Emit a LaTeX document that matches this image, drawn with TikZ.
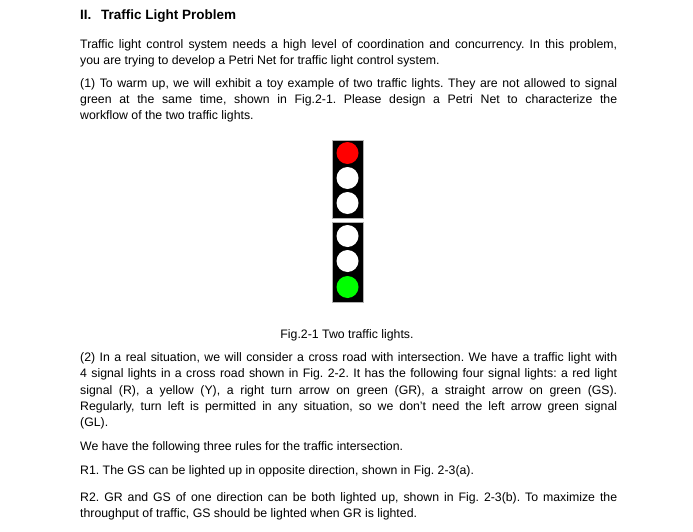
\documentclass[tikz,border=0pt]{standalone}
\usepackage{fontspec}
\setmainfont{Liberation Sans}
\begin{document}
\frenchspacing
\begin{tikzpicture}[x=1pt,y=-1pt,
  txt/.style={anchor=base west,inner sep=0pt,font=\fontsize{12.3}{15}\selectfont},
  head/.style={anchor=base west,inner sep=0pt,font=\fontsize{13.5}{16}\selectfont\bfseries},
  lamp/.style={circle,minimum size=22pt,inner sep=0pt},
  housing/.style={fill=black,draw=gray!60,line width=0.5pt}]
\useasboundingbox (0,0) rectangle (693,532);
\newcommand{\J}[1]{\makebox[537pt][s]{#1}}
\node[head] (h1) at (80,20) {II.};
\node[head] (h2) at (101,20) {Traffic Light Problem};
\node[txt] (l1) at (80,49) {\J{Traffic light control system needs a high level of coordination and concurrency. In this problem,}};
\node[txt] (l2) at (80,65) {you are trying to develop a Petri Net for traffic light control system.};
\node[txt] (l3) at (80,88) {\J{(1) To warm up, we will exhibit a toy example of two traffic lights. They are not allowed to signal}};
\node[txt] (l4) at (80,104) {\J{green at the same time, shown in Fig.2-1. Please design a Petri Net to characterize the}};
\node[txt] (l5) at (80,120) {workflow of the two traffic lights.};
\draw[housing] (332,140) rectangle (363,218);
\draw[housing] (332,222) rectangle (363,302);
\node[lamp,fill=red] (r1) at (347.5,153) {};
\node[lamp,fill=white] (r2) at (347.5,178) {};
\node[lamp,fill=white] (r3) at (347.5,203) {};
\node[lamp,fill=white] (g1) at (347.5,236) {};
\node[lamp,fill=white] (g2) at (347.5,261) {};
\node[lamp,fill=green] (g3) at (347.5,287) {};
\node[txt,anchor=base] (cap) at (347,338) {Fig.2-1 Two traffic lights.};
\node[txt] (l6) at (80,361) {\J{(2) In a real situation, we will consider a cross road with intersection. We have a traffic light with}};
\node[txt] (l7) at (80,377) {\J{4 signal lights in a cross road shown in Fig. 2-2. It has the following four signal lights: a red light}};
\node[txt] (l8) at (80,394) {\J{signal (R), a yellow (Y), a right turn arrow on green (GR), a straight arrow on green (GS).}};
\node[txt] (l9) at (80,410) {\J{Regularly, turn left is permitted in any situation, so we don't need the left arrow green signal}};
\node[txt] (l10) at (80,426) {(GL).};
\node[txt] (l11) at (80,450) {We have the following three rules for the traffic intersection.};
\node[txt] (l12) at (80,474) {R1. The GS can be lighted up in opposite direction, shown in Fig. 2-3(a).};
\node[txt] (l13) at (80,501) {\J{R2. GR and GS of one direction can be both lighted up, shown in Fig. 2-3(b). To maximize the}};
\node[txt] (l14) at (80,517) {throughput of traffic, GS should be lighted when GR is lighted.};
\end{tikzpicture}
\end{document}
